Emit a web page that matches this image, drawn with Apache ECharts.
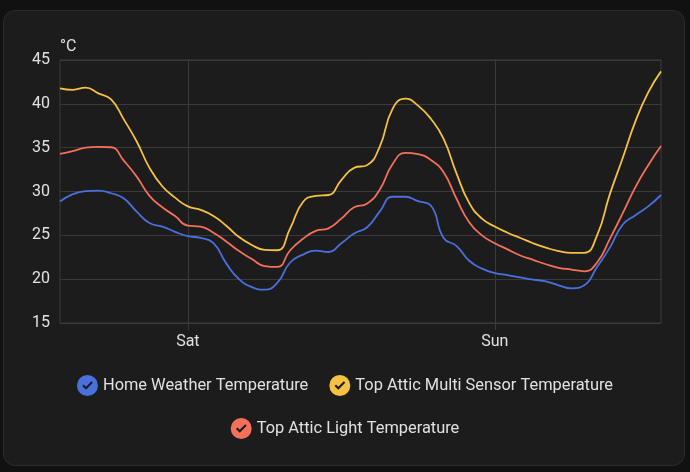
<!DOCTYPE html>
<html>
<head>
<meta charset="utf-8">
<script src="https://cdn.jsdelivr.net/npm/echarts@6/dist/echarts.min.js"></script>
<style>
  html, body { margin: 0; padding: 0; background: #111111; }
  #card {
    position: absolute; left: 3px; top: 10px; width: 680px; height: 454px;
    background: #1c1c1c; border: 1px solid #2b2b2b; border-radius: 12px;
  }
  #main { position: absolute; left: 0; top: 0; width: 690px; height: 472px; }
</style>
</head>
<body>
<div id="card"></div>
<div id="main"></div>
<script>
// hours since Friday 00:00, one sample per hour (Fri 14:00 .. Sun 13:00)
var hours = [];
for (var h = 14; h <= 61; h++) hours.push(h);

var dayTicks = [24, 48];
var dayLabels = ['Sat', 'Sun'];

var homeWeather = [
  28.85, 29.7, 30.05, 30.1, 29.8, 29.2, 27.7, 26.4, 26.0, 25.4,
  24.9, 24.7, 24.1, 21.8, 20.0, 19.1, 18.8, 19.6, 21.9, 22.8,
  23.25, 23.1, 24.1, 25.2, 25.9, 27.7, 29.4, 29.4, 28.9, 28.4,
  24.7, 23.8, 22.1, 21.2, 20.7, 20.45, 20.2, 19.95, 19.75, 19.3,
  18.95, 19.3, 21.4, 23.6, 26.2, 27.3, 28.3, 29.6
];
var multiSensor = [
  41.77, 41.6, 41.85, 41.2, 40.5, 38.2, 35.7, 32.7, 30.6, 29.3,
  28.3, 27.9, 27.2, 26.1, 24.8, 23.9, 23.35, 23.3, 25.8, 28.8,
  29.5, 29.6, 31.3, 32.7, 33.0, 35.1, 39.4, 40.6, 39.8, 38.3,
  36.0, 32.1, 28.7, 26.9, 26.0, 25.3, 24.7, 24.1, 23.6, 23.2,
  23.0, 23.0, 25.0, 29.7, 33.8, 38.0, 41.3, 43.7
];
var atticLight = [
  34.3, 34.6, 35.0, 35.1, 35.05, 33.5, 31.7, 29.5, 28.2, 27.2,
  26.1, 26.0, 25.3, 24.3, 23.2, 22.3, 21.5, 21.4, 23.3, 24.6,
  25.5, 25.8, 26.9, 28.2, 28.6, 30.2, 33.1, 34.4, 34.25, 33.6,
  32.2, 29.2, 26.5, 25.0, 24.1, 23.4, 22.7, 22.2, 21.7, 21.3,
  21.1, 20.9, 21.9, 24.6, 27.5, 30.5, 33.0, 35.2
];

var seriesNames = [
  'Home Weather Temperature',
  'Top Attic Multi Sensor Temperature',
  'Top Attic Light Temperature'
];
var seriesColors = ['#4a70db', '#f6c142', '#f56f5a'];

// circle with a check mark cut out (opposite winding)
var checkIcon = 'path://M10,0 A10,10 0 1,1 10,20 A10,10 0 1,1 10,0 Z ' +
  'M5,10.4 L8.6,14 L15.2,7.4 L13.8,6 L8.6,11.2 L6.4,9 Z';

function pairs(values) {
  return hours.map(function (h, i) { return [h, values[i]]; });
}

var gridColor = '#3a3a3a';
var textColor = '#e1e1e1';

function legendRow(top, names) {
  return {
    top: top,
    left: 'center',
    itemWidth: 21,
    itemHeight: 21,
    itemGap: 21,
    icon: checkIcon,
    textStyle: { color: textColor, fontSize: 16.4, fontFamily: 'Roboto' },
    data: names
  };
}

var myChart = echarts.init(document.getElementById('main'));

var option = {
  backgroundColor: 'transparent',
  textStyle: { fontFamily: 'Roboto' },
  color: seriesColors,
  grid: {
    left: 60, right: 29, top: 60, bottom: 149,
    show: true, borderColor: gridColor, borderWidth: 1
  },
  legend: [
    legendRow(370, seriesNames.slice(0, 2)),
    legendRow(413, seriesNames.slice(2))
  ],
  xAxis: {
    type: 'value',
    min: 14,
    max: 61,
    axisLine: { show: true, lineStyle: { color: gridColor } },
    axisTick: { show: true, length: 7, customValues: dayTicks, lineStyle: { color: gridColor } },
    axisLabel: {
      customValues: dayTicks,
      color: textColor,
      fontSize: 16,
      margin: 11,
      formatter: function (v) { return dayLabels[dayTicks.indexOf(v)] || ''; }
    },
    splitLine: { show: true, lineStyle: { color: gridColor } }
  },
  yAxis: {
    type: 'value',
    min: 15,
    max: 45,
    interval: 5,
    name: '°C',
    nameLocation: 'end',
    nameGap: 5,
    nameTextStyle: { color: textColor, fontSize: 16, align: 'left' },
    axisLine: { show: false },
    axisTick: { show: false },
    axisLabel: { color: textColor, fontSize: 16, margin: 10 },
    splitLine: { lineStyle: { color: gridColor } }
  },
  series: [
    { name: seriesNames[0], type: 'line', data: pairs(homeWeather) },
    { name: seriesNames[1], type: 'line', data: pairs(multiSensor) },
    { name: seriesNames[2], type: 'line', data: pairs(atticLight) }
  ].map(function (s) {
    s.smooth = 0.5;
    s.showSymbol = false;
    s.symbol = 'none';
    s.lineStyle = { width: 1.8 };
    return s;
  })
};

myChart.setOption(option);
</script>
</body>
</html>
